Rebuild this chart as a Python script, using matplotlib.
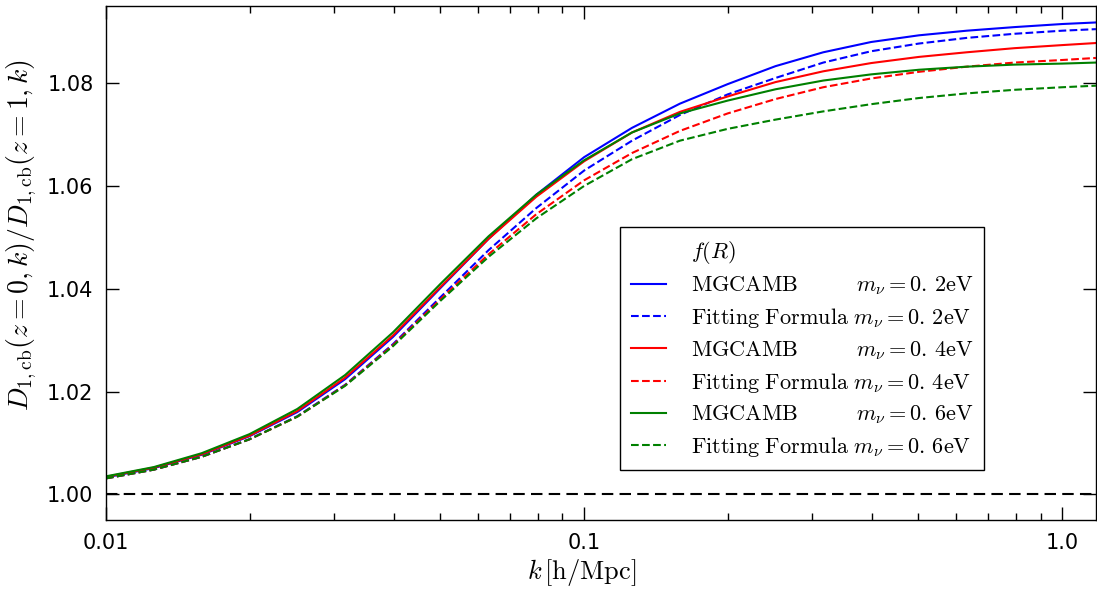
import matplotlib
matplotlib.use('Agg')
import matplotlib.pyplot as plt
from matplotlib.lines import Line2D
from matplotlib.ticker import FixedLocator, FixedFormatter

plt.rcParams['mathtext.fontset'] = 'cm'
plt.rcParams['font.family'] = ['DejaVu Sans']

# wavenumbers k [h/Mpc], 0.1 dex steps
k = [0.01, 0.01259, 0.01585, 0.01995, 0.02512, 0.03162, 0.03981, 0.05012, 0.0631, 0.07943,
     0.1, 0.1259, 0.1585, 0.1995, 0.2512, 0.3162, 0.3981, 0.5012, 0.631, 0.7943, 1.0, 1.175]

# MGCAMB
mg_02 = [1.0033, 1.0051, 1.0077, 1.0113, 1.0160, 1.0224, 1.0306, 1.0402, 1.0497, 1.0583,
         1.0656, 1.0713, 1.0760, 1.0798, 1.0833, 1.0860, 1.0880, 1.0893, 1.0902, 1.0909,
         1.0915, 1.0918]
mg_04 = [1.0034, 1.0052, 1.0078, 1.0114, 1.0162, 1.0227, 1.0309, 1.0404, 1.0497, 1.0579,
         1.0648, 1.0704, 1.0744, 1.0774, 1.0802, 1.0823, 1.0839, 1.0851, 1.0860, 1.0868,
         1.0874, 1.0878]
mg_06 = [1.0035, 1.0053, 1.0080, 1.0117, 1.0166, 1.0232, 1.0315, 1.0410, 1.0502, 1.0583,
         1.0650, 1.0704, 1.0741, 1.0766, 1.0788, 1.0805, 1.0817, 1.0826, 1.0832, 1.0836,
         1.0838, 1.0840]

# fitting formula
fit_02 = [1.0031, 1.0048, 1.0073, 1.0107, 1.0152, 1.0213, 1.0292, 1.0384, 1.0475, 1.0557,
          1.0630, 1.0688, 1.0738, 1.0778, 1.0810, 1.0840, 1.0862, 1.0877, 1.0888, 1.0896,
          1.0902, 1.0905]
fit_04 = [1.0031, 1.0048, 1.0073, 1.0107, 1.0151, 1.0212, 1.0290, 1.0380, 1.0467, 1.0545,
          1.0611, 1.0664, 1.0707, 1.0741, 1.0769, 1.0792, 1.0809, 1.0822, 1.0832, 1.0840,
          1.0845, 1.0849]
fit_06 = [1.0031, 1.0048, 1.0073, 1.0107, 1.0151, 1.0211, 1.0288, 1.0377, 1.0462, 1.0537,
          1.0600, 1.0652, 1.0688, 1.0711, 1.0729, 1.0745, 1.0759, 1.0771, 1.0780, 1.0787,
          1.0792, 1.0795]

fig = plt.figure(figsize=(10.97, 5.90), dpi=100)
ax = fig.add_axes([0.0966, 0.1186, 0.9024, 0.8712])

lw = 1.5
ax.plot(k, mg_02, 'b-', lw=lw)
ax.plot(k, fit_02, 'b--', lw=lw)
ax.plot(k, mg_04, 'r-', lw=lw)
ax.plot(k, fit_04, 'r--', lw=lw)
ax.plot(k, mg_06, 'g-', lw=lw)
ax.plot(k, fit_06, 'g--', lw=lw)
ax.axhline(1.0, color='k', lw=lw, dashes=(5.5, 3))

ax.set_xscale('log')
ax.set_xlim(k[0], k[-1])
ax.set_ylim(0.995, 1.095)

ax.xaxis.set_major_locator(FixedLocator([0.01, 0.1, 1.0]))
ax.xaxis.set_major_formatter(FixedFormatter(['0.01', '0.1', '1.0']))
ax.set_yticks([1.00, 1.02, 1.04, 1.06, 1.08])
ax.set_yticklabels(['1.00', '1.02', '1.04', '1.06', '1.08'])
ax.tick_params(which='both', direction='in', top=True, right=True, labelsize=15)
ax.tick_params(which='major', length=9.5, width=1, pad=9)
ax.tick_params(which='minor', length=5, width=1)
for s in ax.spines.values():
    s.set_linewidth(1)

ax.set_xlabel(r'$k\,[\mathrm{h/Mpc}]$', fontsize=19)
ax.set_ylabel(r'$D_{1,\mathrm{cb}}(z=0,k)/D_{1,\mathrm{cb}}(z=1,k)$', fontsize=20)
ax.xaxis.set_label_coords(0.481, -0.072)
ax.yaxis.set_label_coords(-0.068, 0.554)

# legend: first row is a header without a handle
handles = [Line2D([], [], color='none'),
           Line2D([], [], color='b', lw=lw, ls='-'),
           Line2D([], [], color='b', lw=lw, ls='--'),
           Line2D([], [], color='r', lw=lw, ls='-'),
           Line2D([], [], color='r', lw=lw, ls='--'),
           Line2D([], [], color='g', lw=lw, ls='-'),
           Line2D([], [], color='g', lw=lw, ls='--')]
gap = r'\ ' * 9
labels = [r'$f(R)$',
          r'$\mathrm{MGCAMB}' + gap + r'm_\nu=0.\,2\mathrm{eV}$',
          r'$\mathrm{Fitting\ Formula}\ m_\nu=0.\,2\mathrm{eV}$',
          r'$\mathrm{MGCAMB}' + gap + r'm_\nu=0.\,4\mathrm{eV}$',
          r'$\mathrm{Fitting\ Formula}\ m_\nu=0.\,4\mathrm{eV}$',
          r'$\mathrm{MGCAMB}' + gap + r'm_\nu=0.\,6\mathrm{eV}$',
          r'$\mathrm{Fitting\ Formula}\ m_\nu=0.\,6\mathrm{eV}$']
leg = ax.legend(handles, labels, loc='center', bbox_to_anchor=(0.703, 0.333),
                fontsize=16, frameon=True, fancybox=False, framealpha=1,
                edgecolor='k', handlelength=1.6, handletextpad=1.1,
                labelspacing=0.4, borderpad=0.5)
leg.get_frame().set_linewidth(1)

fig.savefig('out.png', dpi=100)
